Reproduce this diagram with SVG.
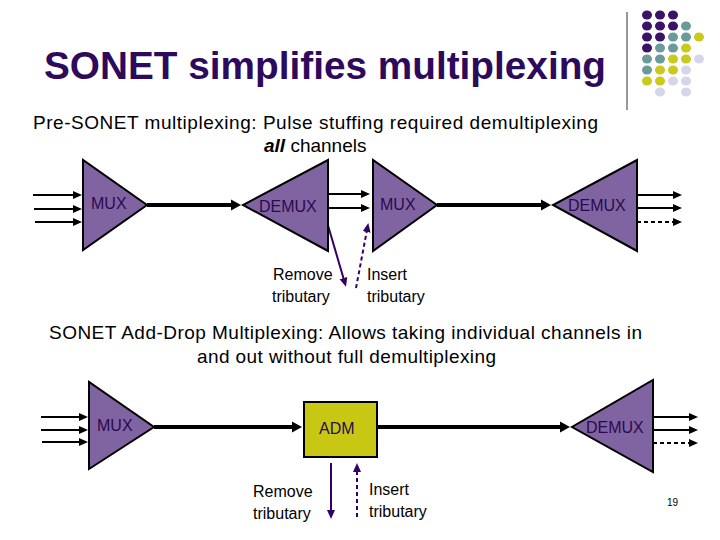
<svg xmlns="http://www.w3.org/2000/svg" width="720" height="540" viewBox="0 0 720 540">
<style>
text{font-family:"Liberation Sans",Arial,sans-serif}
.title{font-size:38px;font-weight:bold;fill:#2e0a5c}
.body{font-size:19px;fill:#000}
.lbl{font-size:16px;fill:#000}
.nl{font-size:16px;fill:#2a0a4e}
.tri{fill:#8064a2;stroke:#000;stroke-width:2;stroke-linejoin:miter}
.adm{fill:#c8c814;stroke:#000;stroke-width:2}
.thick{stroke:#000;stroke-width:4;fill:none}
.thin{stroke:#000;stroke-width:2;fill:none}
.dash{stroke-dasharray:4,3}
.pl{stroke:#330066;stroke-width:2;fill:none}
.P{fill:#3a1268}.T{fill:#6b9a9a}.Y{fill:#c9c91e}.L{fill:#d6d6ea}
</style>
<defs>
<marker id="ab" markerUnits="userSpaceOnUse" markerWidth="12" markerHeight="12" refX="2" refY="6" orient="auto"><path d="M0,0.5 L10,6 L0,11.5 z" fill="#000"/></marker>
<marker id="as" markerUnits="userSpaceOnUse" markerWidth="10" markerHeight="10" refX="2" refY="4.5" orient="auto"><path d="M0,0.5 L9,4.5 L0,8.5 z" fill="#000"/></marker>
<marker id="ap" markerUnits="userSpaceOnUse" markerWidth="10" markerHeight="10" refX="2" refY="4.5" orient="auto"><path d="M0,0.5 L9,4.5 L0,8.5 z" fill="#330066"/></marker>
</defs>
<rect width="720" height="540" fill="#fff"/>

<g id="decor">
<line x1="627" y1="12" x2="627" y2="110" stroke="#333" stroke-width="1"/>
<g>
<ellipse class="P" cx="647" cy="15" rx="5" ry="4.5"/><ellipse class="P" cx="660" cy="15" rx="5" ry="4.5"/><ellipse class="P" cx="673" cy="15" rx="5" ry="4.5"/>
<ellipse class="P" cx="647" cy="26" rx="5" ry="4.5"/><ellipse class="P" cx="660" cy="26" rx="5" ry="4.5"/><ellipse class="P" cx="673" cy="26" rx="5" ry="4.5"/><ellipse class="T" cx="686" cy="26" rx="5" ry="4.5"/>
<ellipse class="P" cx="647" cy="37" rx="5" ry="4.5"/><ellipse class="P" cx="660" cy="37" rx="5" ry="4.5"/><ellipse class="T" cx="673" cy="37" rx="5" ry="4.5"/><ellipse class="T" cx="686" cy="37" rx="5" ry="4.5"/><ellipse class="Y" cx="699" cy="37" rx="5" ry="4.5"/>
<ellipse class="P" cx="647" cy="48" rx="5" ry="4.5"/><ellipse class="T" cx="660" cy="48" rx="5" ry="4.5"/><ellipse class="T" cx="673" cy="48" rx="5" ry="4.5"/><ellipse class="Y" cx="686" cy="48" rx="5" ry="4.5"/>
<ellipse class="T" cx="647" cy="59" rx="5" ry="4.5"/><ellipse class="T" cx="660" cy="59" rx="5" ry="4.5"/><ellipse class="Y" cx="673" cy="59" rx="5" ry="4.5"/><ellipse class="Y" cx="686" cy="59" rx="5" ry="4.5"/><ellipse class="L" cx="699" cy="59" rx="5" ry="4.5"/>
<ellipse class="T" cx="647" cy="70" rx="5" ry="4.5"/><ellipse class="Y" cx="660" cy="70" rx="5" ry="4.5"/><ellipse class="Y" cx="673" cy="70" rx="5" ry="4.5"/><ellipse class="L" cx="686" cy="70" rx="5" ry="4.5"/>
<ellipse class="Y" cx="647" cy="81" rx="5" ry="4.5"/><ellipse class="Y" cx="660" cy="81" rx="5" ry="4.5"/><ellipse class="L" cx="673" cy="81" rx="5" ry="4.5"/><ellipse class="L" cx="686" cy="81" rx="5" ry="4.5"/>
<ellipse class="L" cx="660" cy="92" rx="5" ry="4.5"/><ellipse class="L" cx="686" cy="92" rx="5" ry="4.5"/>
</g>
</g>

<g id="texts">
<text class="title" x="44" y="79" textLength="562" lengthAdjust="spacingAndGlyphs">SONET simplifies multiplexing</text>
<text class="body" x="33" y="129" textLength="565">Pre-SONET multiplexing:  Pulse stuffing required demultiplexing</text>
<text class="body" x="264" y="152"><tspan font-weight="bold" font-style="italic">all</tspan> channels</text>
<text class="body" x="49" y="339" textLength="593">SONET Add-Drop Multiplexing: Allows taking individual channels in</text>
<text class="body" x="197" y="363" textLength="299">and out without full demultiplexing</text>
<text x="667" y="506" font-size="10" fill="#000">19</text>
</g>

<g id="connectors">
<line class="thin" x1="33" y1="195" x2="75" y2="195" marker-end="url(#as)"/>
<line class="thin" x1="34" y1="209" x2="75" y2="209" marker-end="url(#as)"/>
<line class="thin" x1="35" y1="222" x2="75" y2="222" marker-end="url(#as)"/>
<line class="thick" x1="147" y1="205" x2="233" y2="205" marker-end="url(#ab)"/>
<line class="thin" x1="323" y1="194" x2="363" y2="194" marker-end="url(#as)"/>
<line class="thin" x1="323" y1="208" x2="363" y2="208" marker-end="url(#as)"/>
<line class="thick" x1="437" y1="205" x2="543" y2="205" marker-end="url(#ab)"/>
<line class="thin" x1="637" y1="195" x2="675" y2="195" marker-end="url(#as)"/>
<line class="thin" x1="637" y1="208" x2="675" y2="208" marker-end="url(#as)"/>
<line class="thin dash" x1="637" y1="222" x2="675" y2="222" marker-end="url(#as)"/>
<line class="pl" x1="327" y1="222" x2="344" y2="280" marker-end="url(#ap)"/>
<line class="pl dash" x1="356" y1="288" x2="367" y2="230" marker-end="url(#ap)"/>

<line class="thin" x1="41" y1="417" x2="81" y2="417" marker-end="url(#as)"/>
<line class="thin" x1="41" y1="430" x2="81" y2="430" marker-end="url(#as)"/>
<line class="thin" x1="42" y1="442" x2="81" y2="442" marker-end="url(#as)"/>
<line class="thick" x1="154" y1="427" x2="294" y2="427" marker-end="url(#ab)"/>
<line class="thick" x1="377" y1="427" x2="562" y2="427" marker-end="url(#ab)"/>
<line class="thin" x1="653" y1="417" x2="691" y2="417" marker-end="url(#as)"/>
<line class="thin" x1="653" y1="430" x2="691" y2="430" marker-end="url(#as)"/>
<line class="thin dash" x1="653" y1="443" x2="691" y2="443" marker-end="url(#as)"/>
<line class="pl" x1="331" y1="463" x2="331" y2="512" marker-end="url(#ap)"/>
<line class="pl dash" x1="357" y1="517" x2="357" y2="470" marker-end="url(#ap)"/>
</g>

<g id="mux1"><polygon class="tri" points="83,160 83,250 147,205"/><text class="nl" x="91" y="209">MUX</text></g>
<g id="demux1"><polygon class="tri" points="328,160 328,251 243,205"/><text class="nl" x="259" y="212">DEMUX</text></g>
<g id="mux2"><polygon class="tri" points="373,160 373,251 437,205"/><text class="nl" x="380" y="210">MUX</text></g>
<g id="demux2"><polygon class="tri" points="637,160 637,251 553,205"/><text class="nl" x="568" y="211">DEMUX</text></g>
<g id="lbl-top">
<text class="lbl" x="273" y="280">Remove</text><text class="lbl" x="272" y="302">tributary</text>
<text class="lbl" x="367" y="280">Insert</text><text class="lbl" x="367" y="302">tributary</text>
</g>

<g id="mux3"><polygon class="tri" points="89,382 89,469 154,427"/><text class="nl" x="97" y="431">MUX</text></g>
<g id="adm"><rect class="adm" x="304" y="402" width="73" height="55"/><text class="nl" x="319" y="434" fill="#000">ADM</text></g>
<g id="demux3"><polygon class="tri" points="653,380 653,472 572,427"/><text class="nl" x="586" y="433">DEMUX</text></g>
<g id="lbl-bot">
<text class="lbl" x="253" y="497">Remove</text><text class="lbl" x="253" y="519">tributary</text>
<text class="lbl" x="369" y="495">Insert</text><text class="lbl" x="369" y="517">tributary</text>
</g>
</svg>
